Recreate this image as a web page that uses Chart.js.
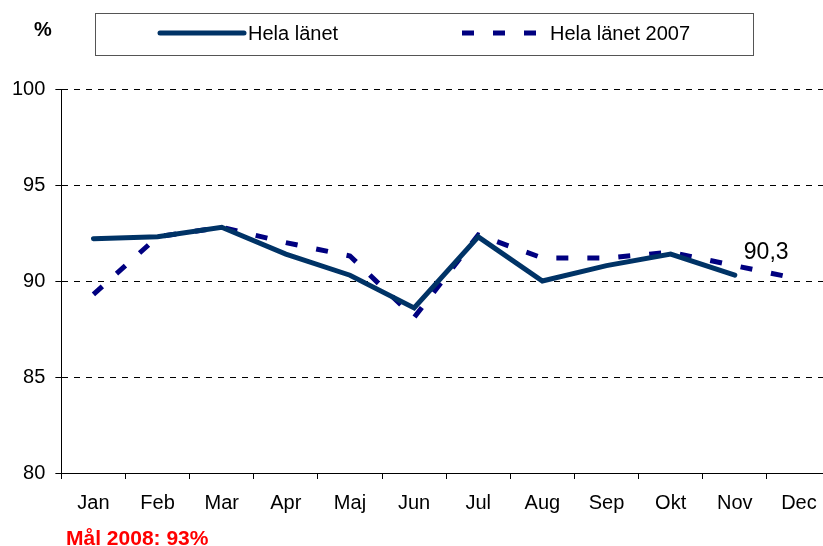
<!DOCTYPE html>
<html>
<head>
<meta charset="utf-8">
<title>Hela länet</title>
<script src="https://cdn.jsdelivr.net/npm/chart.js@4.4.1/dist/chart.umd.min.js"></script>
<style>
  html, body { margin: 0; padding: 0; background: #fff; overflow: hidden; }
  #wrap { position: relative; width: 840px; height: 546px; }
  .note { position: absolute; font-family: "Liberation Sans", Arial, sans-serif; font-weight: bold; white-space: nowrap; }
  #unit { left: 34px; top: 19px; font-size: 20px; line-height: 20px; color: #000; }
  #goal { left: 66px; top: 527px; font-size: 21px; line-height: 21px; color: #ff0000; }
</style>
</head>
<body>
<div id="wrap">
  <canvas id="chart" width="840" height="546"></canvas>
  <div class="note" id="unit">%</div>
  <div class="note" id="goal">Mål 2008: 93%</div>
</div>
<script>
const months = ["Jan", "Feb", "Mar", "Apr", "Maj", "Jun", "Jul", "Aug", "Sep", "Okt", "Nov", "Dec"];
const helaLanet = [92.2, 92.3, 92.8, 91.4, 90.3, 88.6, 92.3, 90.0, 90.8, 91.4, 90.3, null];
const helaLanet2007 = [89.3, 92.3, 92.8, 92.0, 91.3, 88.1, 92.4, 91.2, 91.2, 91.5, 90.8, 90.1];
const yTicks = [80, 85, 90, 95, 100];

const FONT = "'Liberation Sans', Arial, sans-serif";

// boxed legend above the plot, drawn from the dataset styles
const boxedLegend = {
  id: "boxedLegend",
  afterDraw(chart) {
    const ctx = chart.ctx;
    ctx.save();
    ctx.strokeStyle = "#555";
    ctx.lineWidth = 1;
    ctx.strokeRect(95.5, 13.5, 658, 42);

    const items = [
      { ds: chart.data.datasets[0], x: 160 },
      { ds: chart.data.datasets[1], x: 462 }
    ];
    items.forEach((item) => {
      ctx.beginPath();
      ctx.lineWidth = item.ds.borderWidth;
      ctx.strokeStyle = item.ds.borderColor;
      ctx.lineCap = item.ds.borderCapStyle || "butt";
      ctx.setLineDash(item.ds.borderDash || []);
      ctx.moveTo(item.x, 33);
      ctx.lineTo(item.x + 84, 33);
      ctx.stroke();
      ctx.setLineDash([]);
      ctx.fillStyle = "#000";
      ctx.font = "20px " + FONT;
      ctx.textBaseline = "middle";
      ctx.textAlign = "left";
      ctx.fillText(item.ds.label, item.x + 88, 34);
    });
    ctx.restore();
  }
};

// value label next to the last point of the current year
const lastValueLabel = {
  id: "lastValueLabel",
  afterDatasetsDraw(chart) {
    const meta = chart.getDatasetMeta(0);
    let idx = helaLanet.length - 1;
    while (idx > 0 && helaLanet[idx] === null) idx--;
    const pt = meta.data[idx];
    const ctx = chart.ctx;
    ctx.save();
    ctx.fillStyle = "#000";
    ctx.font = "23px " + FONT;
    ctx.textBaseline = "middle";
    ctx.textAlign = "left";
    ctx.fillText(helaLanet[idx].toFixed(1).replace(".", ","), pt.x + 9, pt.y - 23);
    ctx.restore();
  }
};

new Chart(document.getElementById("chart"), {
  type: "line",
  data: {
    labels: months,
    datasets: [
      {
        label: "Hela länet",
        data: helaLanet,
        borderColor: "#003366",
        borderWidth: 5,
        borderCapStyle: "round",
        borderJoinStyle: "miter",
        pointRadius: 0,
        tension: 0,
        order: 1
      },
      {
        label: "Hela länet 2007",
        data: helaLanet2007,
        borderColor: "#000080",
        borderWidth: 5,
        borderDash: [12, 19],
        borderCapStyle: "butt",
        pointRadius: 0,
        tension: 0,
        order: 2
      }
    ]
  },
  options: {
    responsive: false,
    animation: false,
    events: [],
    layout: {
      padding: { top: 89, left: 2, right: 9, bottom: 19 }
    },
    plugins: {
      legend: { display: false },
      tooltip: { enabled: false }
    },
    scales: {
      x: {
        type: "category",
        offset: true,
        grid: {
          offset: true,
          drawOnChartArea: false,
          drawTicks: true,
          tickLength: 6,
          color: "#000"
        },
        border: { display: true, color: "#000", width: 1 },
        ticks: {
          color: "#000",
          padding: 12,
          font: { family: FONT, size: 20 }
        }
      },
      y: {
        min: yTicks[0],
        max: yTicks[yTicks.length - 1],
        afterBuildTicks(scale) {
          scale.ticks = yTicks.map((v) => ({ value: v }));
        },
        grid: {
          color: "#000",
          lineWidth: 1,
          tickLength: 6,
          tickColor: "#000",
          tickBorderDash: []
        },
        border: { display: true, color: "#000", width: 1, dash: [6, 6] },
        ticks: {
          color: "#000",
          padding: 10,
          font: { family: FONT, size: 20 }
        }
      }
    }
  },
  plugins: [boxedLegend, lastValueLabel]
});
</script>
</body>
</html>
